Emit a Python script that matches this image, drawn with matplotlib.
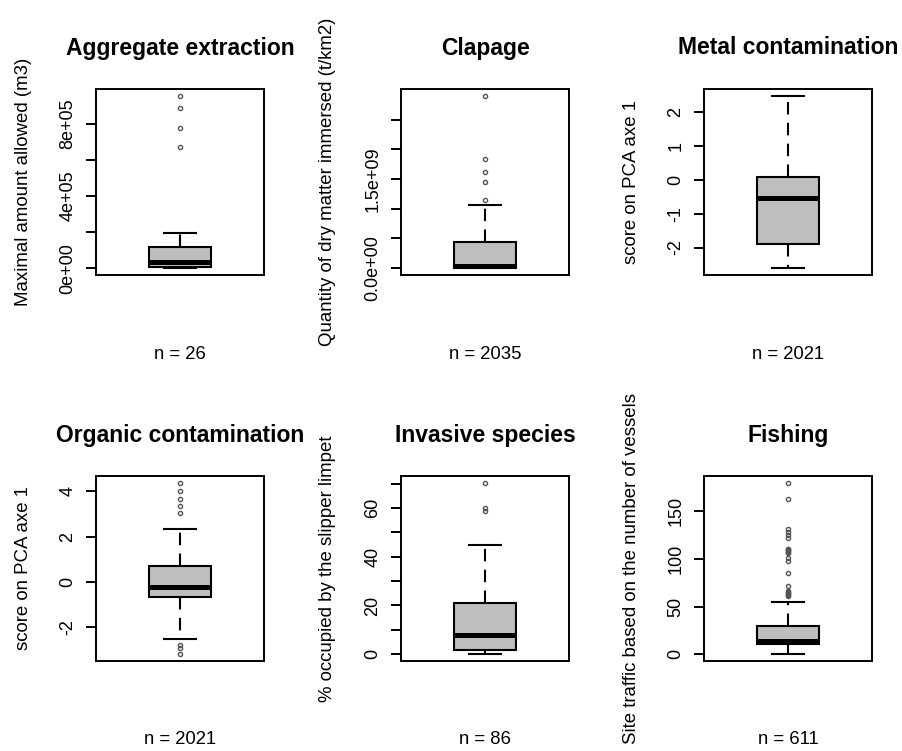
import matplotlib.pyplot as plt

plt.rcParams['font.family'] = ['Liberation Sans', 'DejaVu Sans']

titles = ["Aggregate extraction", "Clapage", "Metal contamination",
          "Organic contamination", "Invasive species", "Fishing"]
ylabels = ["Maximal amount allowed (m3)",
           "Quantity of dry matter immersed (t/km2)",
           "score on PCA axe 1",
           "score on PCA axe 1",
           "% occupied by the slipper limpet",
           "Site traffic based on the number of vessels"]
counts = [26, 2035, 2021, 2021, 86, 611]

# five-number summaries
whisk_lo = [0, 0, -2.61, -2.51, 0, 0]
q1 = [0.08e5, 0.0, -1.89, -0.66, 1.9, 10.5]
medians = [0.32e5, 0.03e9, -0.52, -0.21, 7.8, 13.5]
q3 = [1.16e5, 0.44e9, 0.09, 0.71, 21.2, 29.5]
whisk_hi = [1.93e5, 1.07e9, 2.49, 2.32, 44.9, 54.8]
outliers = [
    [6.72e5, 7.79e5, 8.88e5, 9.55e5],
    [1.15e9, 1.45e9, 1.62e9, 1.83e9, 2.9e9],
    [],
    [-3.2, -2.95, -2.78, 3.06, 3.36, 3.65, 4.03, 4.38],
    [58.8, 60.1, 70.4],
    [61, 62, 63, 64, 65, 66, 72, 85, 98, 101.5, 106, 107, 108, 109, 110,
     111, 122, 125, 128.5, 132, 163, 180],
]

yticks = [
    [0, 2e5, 4e5, 6e5, 8e5],
    [0, 5e8, 1e9, 1.5e9, 2e9, 2.5e9],
    [-2, -1, 0, 1, 2],
    [-2, 0, 2, 4],
    [0, 10, 20, 30, 40, 50, 60, 70],
    [0, 50, 100, 150],
]
ytick_labels = [
    ["0e+00", "", "4e+05", "", "8e+05"],
    ["0.0e+00", "", "", "1.5e+09", "", ""],
    ["-2", "-1", "0", "1", "2"],
    ["-2", "0", "2", "4"],
    ["0", "", "20", "", "40", "", "60", ""],
    ["0", "50", "100", "150"],
]

W, H = 902, 751
# axes boxes in pixels: left, top, right, bottom
boxes = [(96, 89, 264, 275), (401, 89, 569, 275), (704, 89, 872, 275),
         (96, 476, 264, 661), (401, 476, 569, 661), (704, 476, 872, 661)]

fig = plt.figure(figsize=(W / 100, H / 100), dpi=100)
PX = 0.72  # pixels -> points

for i in range(6):
    l, t, r, b = boxes[i]
    ax = fig.add_axes([l / W, 1 - b / H, (r - l) / W, (b - t) / H])

    stats = [dict(med=medians[i], q1=q1[i], q3=q3[i], whislo=whisk_lo[i],
                  whishi=whisk_hi[i], fliers=outliers[i])]
    ax.bxp(stats, positions=[1], widths=0.4, capwidths=0.2, patch_artist=True,
           boxprops=dict(facecolor='#bebebe', edgecolor='black', linewidth=1.5),
           medianprops=dict(color='black', linewidth=3.6, solid_capstyle='butt'),
           whiskerprops=dict(color='black', linewidth=1.5, linestyle=(0, (6, 4))),
           capprops=dict(color='black', linewidth=1.5),
           flierprops=dict(marker='o', markersize=3.0, markerfacecolor='none',
                           markeredgecolor='#555555', markeredgewidth=1.0))

    vals = [whisk_lo[i], whisk_hi[i]] + outliers[i]
    lo, hi = min(vals), max(vals)
    pad = 0.04 * (hi - lo)
    ax.set_ylim(lo - pad, hi + pad)
    ax.set_xlim(0.46, 1.54)

    ax.set_xticks([])
    ax.set_yticks(yticks[i])
    ax.set_yticklabels(ytick_labels[i])
    ax.tick_params(axis='y', length=7.2, width=1.4, pad=7, labelsize=13,
                   labelrotation=90)
    for lab in ax.get_yticklabels():
        lab.set_va('center')
    for sp in ax.spines.values():
        sp.set_linewidth(1.4)

    ax.annotate(titles[i], xy=(0.5, 1), xycoords='axes fraction',
                xytext=(0, 41 * PX), textcoords='offset points',
                ha='center', va='center', fontsize=16.5, fontweight='bold')
    ax.annotate(f"n = {counts[i]}", xy=(0.5, 0), xycoords='axes fraction',
                xytext=(0, -79 * PX), textcoords='offset points',
                ha='center', va='center', fontsize=13.3)
    ax.annotate(ylabels[i], xy=(0, 0.5), xycoords='axes fraction',
                xytext=(-73 * PX, 0), textcoords='offset points',
                ha='center', va='center', rotation=90, fontsize=13.4)

fig.savefig('out.png', dpi=100)
